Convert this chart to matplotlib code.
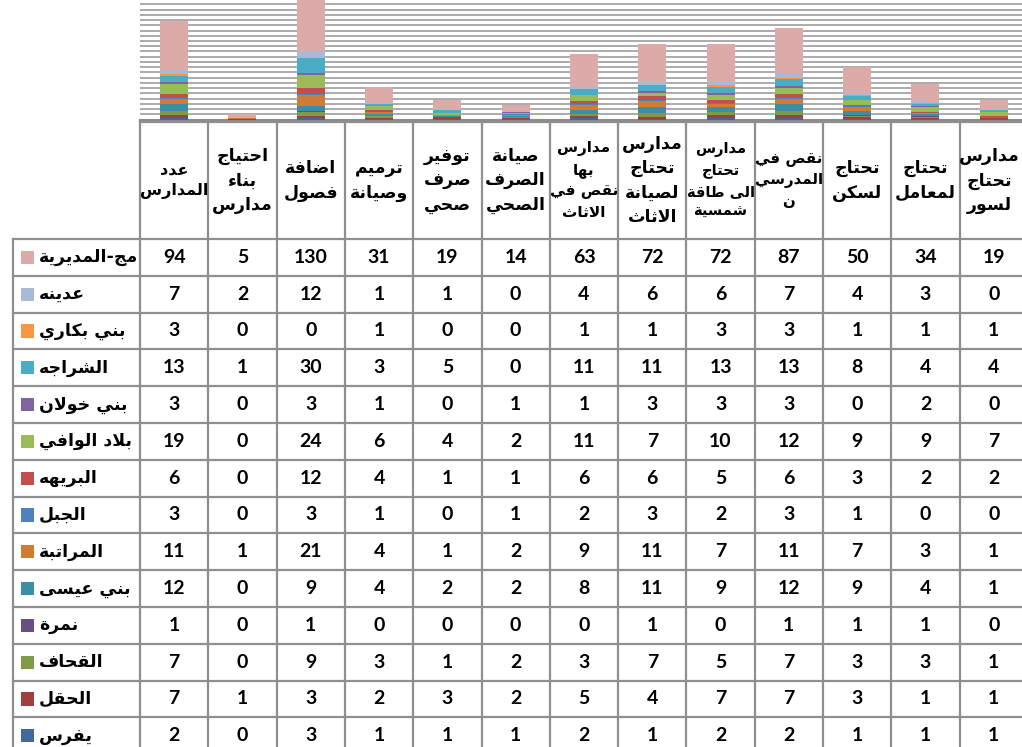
import matplotlib
matplotlib.use("Agg")
import matplotlib.pyplot as plt
import numpy as np
from matplotlib.patches import Rectangle

# column headers (needs), left to right
needs = ["عدد\nالمدارس", "احتياج\nبناء\nمدارس", "اضافة\nفصول", "ترميم\nوصيانة",
         "توفير\nصرف\nصحي", "صيانة\nالصرف\nالصحي", "مدارس\nبها\nنقص في\nالاثاث",
         "مدارس\nتحتاج\nلصيانة\nالاثاث", "مدارس\nتحتاج\nالى طاقة\nشمسية",
         "نقص في\nالمدرسي\nن", "تحتاج\nلسكن", "تحتاج\nلمعامل", "مدارس\nتحتاج\nلسور"]

# table rows, top to bottom
districts = ["مج-المديرية", "عدينه", "بني بكاري", "الشراجه", "بني خولان", "بلاد الوافي",
             "البريهه", "الجبل", "المراتبة", "بني عيسى", "نمرة", "القحاف", "الحقل", "يفرس"]

madiriya = [94, 5, 130, 31, 19, 14, 63, 72, 72, 87, 50, 34, 19]
odaina = [7, 2, 12, 1, 1, 0, 4, 6, 6, 7, 4, 3, 0]
bani_bakari = [3, 0, 0, 1, 0, 0, 1, 1, 3, 3, 1, 1, 1]
sharajah = [13, 1, 30, 3, 5, 0, 11, 11, 13, 13, 8, 4, 4]
bani_khawlan = [3, 0, 3, 1, 0, 1, 1, 3, 3, 3, 0, 2, 0]
bilad_wafi = [19, 0, 24, 6, 4, 2, 11, 7, 10, 12, 9, 9, 7]
buraiha = [6, 0, 12, 4, 1, 1, 6, 6, 5, 6, 3, 2, 2]
jabal = [3, 0, 3, 1, 0, 1, 2, 3, 2, 3, 1, 0, 0]
marateba = [11, 1, 21, 4, 1, 2, 9, 11, 7, 11, 7, 3, 1]
bani_eisa = [12, 0, 9, 4, 2, 2, 8, 11, 9, 12, 9, 4, 1]
namra = [1, 0, 1, 0, 0, 0, 0, 1, 0, 1, 1, 1, 0]
qahhaf = [7, 0, 9, 3, 1, 2, 3, 7, 5, 7, 3, 3, 1]
haql = [7, 1, 3, 2, 3, 2, 5, 4, 7, 7, 3, 1, 1]
yafras = [2, 0, 3, 1, 1, 1, 2, 1, 2, 2, 1, 1, 1]

rows = [madiriya, odaina, bani_bakari, sharajah, bani_khawlan, bilad_wafi, buraiha,
        jabal, marateba, bani_eisa, namra, qahhaf, haql, yafras]

colors = ["#DBAAA9", "#A9B9D8", "#F79646", "#4BACC6", "#8064A2", "#9BBB59", "#C0504D",
          "#4F81BD", "#D07C35", "#3A8FA6", "#664F85", "#809B48", "#9E403D", "#41699E"]

# --- minimal arabic shaping (matplotlib has no bidi / joining) ---
LETTERS = "ءآأؤإئابةتثجحخدذرزسشصضطظعغفقكلمنهوىي"
NFORMS = [1, 2, 2, 2, 2, 4, 2, 4, 2, 4, 4, 4, 4, 4, 2, 2, 2, 2,
          4, 4, 4, 4, 4, 4, 4, 4, 4, 4, 4, 4, 4, 4, 4, 2, 2, 4]
FORMS = {}
code = 0xFE80
for ch, n in zip(LETTERS, NFORMS):
    FORMS[ch] = [chr(code + k) for k in range(n)]
    code += n
LAM_ALEF = {"آ": 0xFEF5, "أ": 0xFEF7, "إ": 0xFEF9, "ا": 0xFEFB}


def shape_line(s):
    out = []
    i = 0
    while i < len(s):
        ch = s[i]
        prev = s[i - 1] if i > 0 else ""
        prev_join = len(FORMS.get(prev, [])) == 4
        if ch == "ل" and i + 1 < len(s) and s[i + 1] in LAM_ALEF:
            out.append(chr(LAM_ALEF[s[i + 1]] + (1 if prev_join else 0)))
            i += 2
            continue
        if ch in FORMS:
            f = FORMS[ch]
            nxt = s[i + 1] if i + 1 < len(s) else ""
            next_join = len(f) == 4 and len(FORMS.get(nxt, [])) >= 2
            if prev_join and next_join:
                k = 3
            elif prev_join:
                k = 1 if len(f) > 1 else 0
            elif next_join:
                k = 2
            else:
                k = 0
            out.append(f[k])
        else:
            out.append(ch)
        i += 1
    return "".join(reversed(out))


def ar(text):
    return "\n".join(shape_line(line) for line in text.split("\n"))


W, H = 1022, 747
fig = plt.figure(figsize=(W / 100, H / 100), dpi=100)
ncol = len(needs)
nrow = len(districts)
col_px = 68.3
row_px = 36.8
hdr_px = 117

# ---- stacked bars ----
ax = fig.add_axes([140 / W, 1 - 119.5 / H, ncol * col_px / W, 157 / H])
x = np.arange(ncol) + 0.5
bottom = np.zeros(ncol)
for name, vals, c in reversed(list(zip(districts, rows, colors))):
    ax.bar(x, vals, bottom=bottom, width=0.41, color=c, zorder=3)
    bottom += np.array(vals)
ax.set_xlim(0, ncol)
ax.set_ylim(0, 300)
ax.set_yticks(np.arange(0, 301, 10))
ax.yaxis.grid(True, color="#ABABAB", linewidth=1.4, zorder=0)
ax.set_xticks(np.arange(ncol + 1))
ax.tick_params(axis="x", length=4, width=1.5, color="#8C8C8C", labelbottom=False)
ax.tick_params(axis="y", length=0, labelleft=False)
for s in ["top", "left", "right"]:
    ax.spines[s].set_visible(False)
ax.spines["bottom"].set_color("#8C8C8C")
ax.spines["bottom"].set_linewidth(1.5)

# ---- data table ----
hdr = hdr_px / row_px
tab = fig.add_axes([140 / W, 1 - (122 + hdr_px + nrow * row_px) / H,
                    ncol * col_px / W, (hdr_px + nrow * row_px) / H])
tab.set_xlim(0, ncol)
tab.set_ylim(nrow, -hdr)
tab.axis("off")
left = (12.7 - 140) / col_px
lc = "#8F8F8F"
lw = 1.6
tab.plot([0, ncol], [-hdr, -hdr], color=lc, lw=lw, clip_on=False)
for r in range(nrow + 1):
    tab.plot([left, ncol], [r, r], color=lc, lw=lw, clip_on=False)
for cidx in range(ncol + 1):
    tab.plot([cidx, cidx], [-hdr, nrow], color=lc, lw=lw, clip_on=False)
tab.plot([left, left], [0, nrow], color=lc, lw=lw, clip_on=False)

renderer = fig.canvas.get_renderer()
for j, lab in enumerate(needs):
    t = tab.text(j + 0.5, -hdr / 2, ar(lab), ha="center", va="center",
                 multialignment="center", fontsize=12.5, fontweight="bold",
                 family="DejaVu Sans", linespacing=1.45, clip_on=False)
    w = t.get_window_extent(renderer).width
    if w > col_px:
        t.set_fontsize(12.5 * col_px / w)
    bb = t.get_window_extent(renderer)
    if bb.x1 > W - 2:
        t.set_x(j + 0.5 - (bb.x1 - (W - 2)) / col_px)

sw = (21 - 140) / col_px
for i, (name, vals, c) in enumerate(zip(districts, rows, colors)):
    tab.add_patch(Rectangle((sw, i + 0.5 - 0.18), 13 / col_px, 0.36, facecolor=c,
                            edgecolor="none", clip_on=False))
    tab.text((39 - 140) / col_px, i + 0.5, ar(name), ha="left", va="center",
             fontsize=12.5, fontweight="bold", family="DejaVu Sans", clip_on=False)
    for j, v in enumerate(vals):
        tab.text(j + 0.5, i + 0.5, str(v), ha="center", va="center", fontsize=14,
                 fontweight="bold", family="Lato", clip_on=False)

fig.savefig("out.png", dpi=100, facecolor="white")
